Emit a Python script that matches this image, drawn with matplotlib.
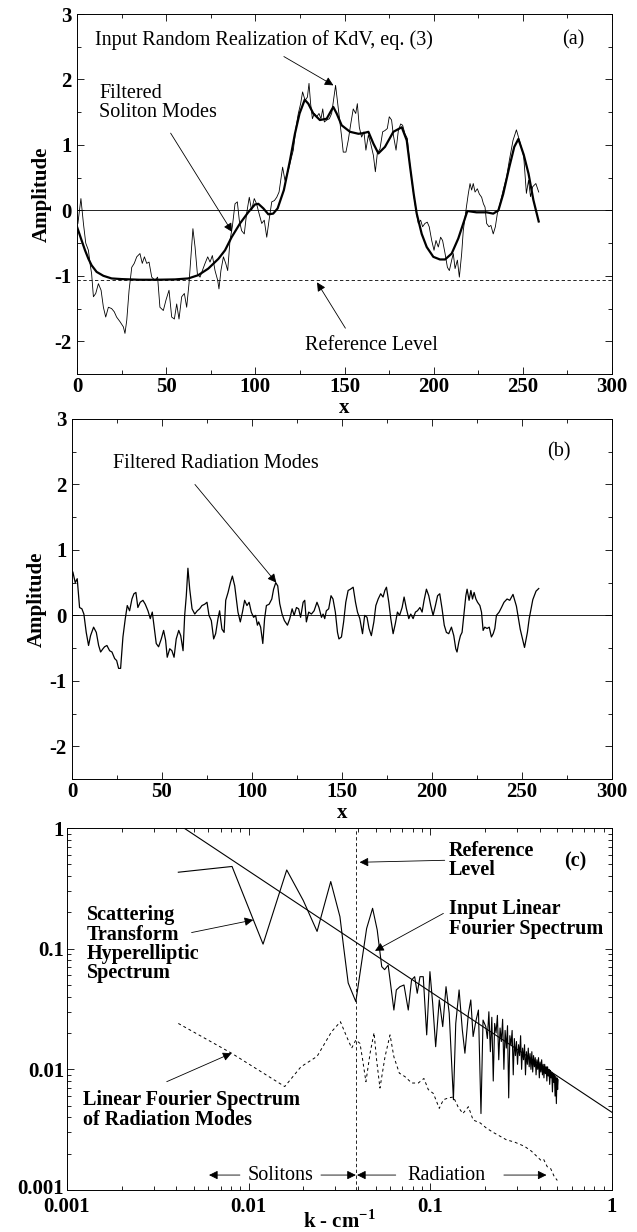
import matplotlib
matplotlib.use("Agg")
import matplotlib.pyplot as plt
import matplotlib.transforms as mtransforms
from matplotlib.ticker import MultipleLocator, LogLocator, NullFormatter

plt.rcParams['font.family'] = ['Liberation Serif', 'DejaVu Serif']
plt.rcParams['mathtext.fontset'] = 'custom'
plt.rcParams['mathtext.rm'] = 'Liberation Serif'
plt.rcParams['mathtext.bf'] = 'Liberation Serif:bold'

# ---------------- Panel (a) data ----------------
input_x = [0.5, 2.2, 3.6, 4.9, 6.4, 7.3, 8.2, 9.2, 10.5, 12, 13.5, 14.8, 16.1, 17.6, 19.4, 20.9,
           22.2, 24.1, 26, 26.9, 27.9, 29.2, 30.7, 32.1, 33.5, 35.3, 36.6, 37.8, 39.1, 40.4,
           41.9, 43.7, 45.2, 46.5, 48.4, 49.9, 51.6, 53.1, 54.6, 55.9, 57.2, 58.7, 60.2, 61.5,
           62.8, 63.9, 65, 66.2, 67.5, 69, 70.3, 71.8, 73.3, 74.6, 75.9, 77.4, 78.9, 79.6,
           80.7, 82.1, 83.4, 84.5, 85.8, 87.1, 88.6, 89.9, 91, 92.3, 93.8, 95.1, 96.6, 97.9,
           99.4, 100.7, 102.1, 103.6, 105, 106.4, 107.7, 109.2, 110.7, 112, 113.3, 115.3,
           116.6, 118.5, 119.8, 121.3, 122.8, 124.1, 125.4, 126.5, 127.9, 129.2, 130.1, 131,
           132, 133.1, 134.4, 135.7, 136.8, 137.8, 138.7, 140, 141.5, 142.8, 144.1, 145,
           146.2, 147.5, 148.4, 149.3, 150.8, 152.1, 153.5, 154.9, 156.3, 157.2, 158.3, 159.6,
           160.9, 162, 163.4, 164.7, 166.2, 167.3, 168.4, 169.9, 171.4, 172.7, 174, 175.1,
           176.4, 177.4, 178.9, 180.2, 181.5, 182.6, 183.9, 185.2, 186.4, 187.7, 189, 190.1,
           191.4, 192.7, 193.8, 195.1, 196.4, 197.5, 198.9, 200.2, 201.3, 202.6, 203.9, 205,
           206.4, 207.7, 208.8, 210.1, 211, 212, 213.3, 214.4, 215.7, 216.6, 218.1, 219.4,
           220.4, 221.3, 222.2, 223.2, 224.5, 225.6, 226.9, 227.9, 228.8, 229.7, 231, 232.1,
           233.4, 234.6, 235.7, 237.2, 239, 240.9, 242.4, 244.5, 246.4, 248.6, 250.5, 252,
           253.2, 254.3, 255.5, 257.3, 258.9]
input_y = [-0.2, 0.18, -0.2, -0.5, -0.61, -0.81, -0.97, -1.32, -1.27, -1.12, -1.22, -1.48, -1.63,
           -1.48, -1.5, -1.55, -1.63, -1.7, -1.78, -1.88, -1.68, -1.22, -0.87, -0.81, -0.71,
           -0.66, -0.81, -0.71, -0.81, -0.79, -1.02, -1.07, -1.02, -1.48, -1.53, -1.37, -1.22,
           -1.63, -1.66, -1.43, -1.66, -1.32, -1.27, -1.48, -1.12, -0.71, -0.28, -0.56, -0.97,
           -1.02, -0.92, -0.81, -0.71, -0.79, -0.69, -0.92, -1.07, -1.2, -0.92, -0.71, -0.81,
           -0.92, -0.46, -0.25, 0.1, 0.13, -0.15, -0.31, -0.36, -0.05, 0.2, 0.0, 0.18, 0.1,
           -0.05, -0.2, -0.15, -0.41, -0.15, 0.13, 0.15, 0.2, 0.28, 0.66, 0.46, 0.61, 0.76,
           0.92, 1.27, 1.48, 1.63, 1.81, 1.68, 1.73, 1.94, 1.63, 1.4, 1.48, 1.43, 1.48, 1.4,
           1.55, 1.35, 1.38, 1.4, 1.48, 1.73, 1.91, 1.63, 1.32, 1.12, 0.89, 0.89, 1.07, 1.32,
           1.55, 1.48, 1.63, 1.27, 1.12, 1.2, 0.92, 1.15, 1.02, 0.84, 0.59, 0.87, 0.94, 1.2,
           1.22, 1.25, 1.43, 1.38, 1.15, 0.92, 1.22, 1.32, 1.3, 1.17, 1.1, 0.76, 0.46, 0.2,
           0.0, -0.2, -0.15, -0.25, -0.2, -0.18, -0.25, -0.46, -0.61, -0.46, -0.56, -0.41,
           -0.46, -0.66, -0.87, -0.92, -0.76, -0.66, -0.89, -0.76, -1.02, -0.66, -0.31, 0.0,
           0.25, 0.41, 0.31, 0.41, 0.28, 0.33, 0.25, 0.2, 0.1, 0.05, -0.2, -0.25, -0.23,
           -0.36, -0.25, -0.05, 0.1, 0.31, 0.51, 0.76, 1.07, 1.23, 1.02, 0.82, 0.26, 0.46,
           0.21, 0.36, 0.41, 0.28]

soliton_x = [0, 2.6, 4.5, 6.4, 8.2, 11, 14.8, 19.4, 25, 35, 45, 55, 62.4, 68, 73.6, 79.3, 83,
             86.7, 91.4, 96, 99.8, 101.7, 104.5, 107.3, 110, 112.5, 116, 119.4, 122.2, 124.8,
             127.7, 129.7, 132.5, 136.2, 140, 143.7, 145.6, 148.4, 153.1, 157.8, 160.6, 163.4,
             166.2, 169, 172.7, 177.4, 182.1, 184.9, 186.8, 188.8, 190.5, 193.3, 196.1, 199.8,
             203.5, 206.4, 210.1, 213.8, 216.6, 218.9, 224, 229.7, 233.4, 236.3, 239, 242.4,
             245.2, 247.5, 250.5, 253.2, 255.9, 258.9]
soliton_y = [-0.25, -0.46, -0.61, -0.74, -0.84, -0.94, -1.0, -1.04, -1.05, -1.06, -1.06, -1.055,
             -1.04, -0.99, -0.89, -0.74, -0.61, -0.41, -0.2, -0.03, 0.09, 0.1, 0.03, -0.06,
             -0.05, 0.03, 0.31, 0.76, 1.17, 1.48, 1.69, 1.63, 1.48, 1.38, 1.4, 1.58, 1.48, 1.3,
             1.2, 1.17, 1.18, 1.2, 1.02, 0.87, 0.97, 1.2, 1.27, 1.07, 0.66, 0.25, -0.05, -0.36,
             -0.56, -0.71, -0.75, -0.75, -0.66, -0.43, -0.2, -0.01, -0.03, -0.03, -0.05, 0.0,
             0.25, 0.66, 0.97, 1.09, 0.85, 0.56, 0.16, -0.17]

ref_level_a = -1.07

# ---------------- Panel (b) data ----------------
rad_x = [0.5, 1.8, 2.9, 4.2, 5.5, 6.6, 7.9, 9.2, 10.3, 12, 13.5, 14.8, 15.9, 17.2, 18.1, 19.4,
         20.9, 22.2, 23.7, 24.8, 25.9, 27, 28.3, 29.6, 30.7, 32, 33.3, 34.4, 35.5, 36.6, 37.9,
         39.4, 40.7, 42.2, 43.5, 44.6, 45.5, 46.8, 48.1, 49.6, 50.9, 52, 52.9, 54.3, 55.5,
         56.7, 57.9, 59.3, 60.4, 61.7, 62.6, 63.5, 64.4, 65.4, 66.7, 68.2, 69.6, 70.9, 72.2,
         73.7, 75, 76.1, 77.4, 78.7, 79.8, 81.1, 82, 83.3, 84.5, 85.4, 86.7, 88, 89.1, 90.4,
         91.3, 92.2, 93.5, 94.7, 95.9, 97.2, 98.4, 99.6, 100.9, 102, 103, 103.7, 104.8, 106,
         107, 108, 109.5, 111, 112, 113.2, 114.3, 115.4, 116.7, 118, 119.7, 121, 122.3, 123.4,
         124.7, 125.9, 127, 128.4, 129.3, 130.2, 131.5, 133, 134.5, 136.1, 137.2, 138.6,
         139.5, 140.4, 141.3, 142.6, 143.9, 145, 146.3, 147.5, 148.3, 149.7, 150.9, 152.1,
         153.4, 154.7, 156.2, 157.5, 158.6, 159.9, 161.4, 162.6, 163.9, 165, 166.3, 167.7,
         168.8, 170.1, 171.5, 172.8, 173.8, 174.7, 176, 177.1, 178.4, 179.6, 180.8, 182,
         183.4, 184.5, 185.8, 187.1, 188.2, 189.5, 190.8, 191.9, 193.3, 194.5, 195.6, 196.9,
         198.2, 199.3, 200.6, 201.9, 203.1, 204.3, 205.6, 206.8, 208, 209.3, 210.8, 212.1,
         213.2, 213.9, 214.9, 215.8, 216.7, 217.7, 218.8, 219.5, 220.6, 221.6, 222.5, 223.4,
         224.4, 225.3, 226.6, 227.5, 228.4, 229.3, 230.6, 231.8, 233, 234, 234.9, 235.8,
         237.3, 238.6, 240, 241.7, 243.2, 245, 246.9, 249, 251.4, 253, 254, 256, 257.8, 259.3]
rad_y = [0.66, 0.5, 0.56, 0.12, 0.1, 0.02, -0.26, -0.46, -0.31, -0.18, -0.26, -0.46, -0.56,
         -0.51, -0.48, -0.46, -0.54, -0.56, -0.66, -0.69, -0.81, -0.81, -0.33, -0.05, 0.15,
         0.07, 0.25, 0.33, 0.35, 0.12, 0.2, 0.23, 0.17, 0.07, -0.05, 0.05, -0.15, -0.43,
         -0.48, -0.36, -0.23, -0.38, -0.64, -0.51, -0.54, -0.64, -0.36, -0.23, -0.31, -0.54,
         0.0, 0.3, 0.72, 0.4, 0.1, 0.02, 0.07, 0.1, 0.15, 0.17, 0.2, 0.0, -0.08, -0.36, -0.28,
         -0.05, 0.07, -0.21, -0.26, 0.23, 0.35, 0.5, 0.6, 0.45, 0.25, 0.05, -0.1, 0.05, 0.23,
         0.15, 0.2, 0.05, -0.03, 0.0, -0.15, -0.1, -0.18, -0.43, -0.05, 0.15, 0.17, 0.25, 0.4,
         0.5, 0.45, 0.18, 0.02, -0.08, -0.15, -0.05, 0.1, 0.0, 0.12, 0.1, -0.03, 0.2, 0.23,
         -0.1, 0.05, 0.02, 0.07, 0.2, 0.12, -0.03, 0.02, -0.05, 0.07, 0.1, 0.3, 0.25, 0.05,
         -0.26, -0.36, -0.33, -0.1, 0.2, 0.38, 0.4, 0.43, 0.2, 0.05, -0.05, -0.28, 0.0, -0.03,
         -0.2, -0.31, -0.1, 0.15, 0.25, 0.33, 0.28, 0.38, 0.43, 0.2, -0.05, -0.28, -0.13, 0.05,
         0.0, 0.12, 0.28, 0.1, -0.05, 0.02, -0.05, 0.05, 0.07, 0.12, 0.05, 0.23, 0.4, 0.3,
         0.15, 0.0, 0.15, 0.3, 0.33, 0.1, -0.15, -0.26, -0.28, -0.18, -0.31, -0.51, -0.56,
         -0.41, -0.31, -0.26, 0.0, 0.3, 0.4, 0.23, 0.38, 0.25, 0.35, 0.25, 0.2, 0.15, 0.05,
         -0.23, -0.18, -0.2, -0.18, -0.33, -0.28, -0.2, 0.0, 0.05, 0.12, 0.2, 0.25, 0.23, 0.32,
         0.14, -0.21, -0.49, -0.26, -0.05, 0.24, 0.37, 0.41]

# ---------------- Panel (c) data ----------------
hyper_k = [0.0041, 0.0081, 0.0120, 0.0162, 0.0200, 0.0238, 0.0283, 0.0318, 0.0333, 0.0353,
           0.0389, 0.0418, 0.0446, 0.0481, 0.051, 0.054, 0.056, 0.0586, 0.063, 0.065, 0.068,
           0.0716, 0.0756, 0.0788, 0.082, 0.0847, 0.0877, 0.0914, 0.0955, 0.0995, 0.103,
           0.107, 0.112, 0.117, 0.122, 0.127, 0.134, 0.138, 0.144, 0.150, 0.155, 0.162, 0.167,
           0.172, 0.178, 0.184, 0.190, 0.195, 0.202, 0.206, 0.210, 0.214, 0.218, 0.222, 0.226,
           0.230, 0.234, 0.238, 0.242, 0.246, 0.250, 0.254, 0.258, 0.262, 0.266, 0.270, 0.274,
           0.278, 0.282, 0.286, 0.290, 0.294, 0.298, 0.302, 0.306, 0.310, 0.314, 0.318, 0.322,
           0.326, 0.330, 0.334, 0.338, 0.342, 0.346, 0.350, 0.354, 0.358, 0.362, 0.366, 0.370,
           0.374, 0.378, 0.382, 0.386, 0.390, 0.394, 0.398, 0.402, 0.406, 0.410, 0.414, 0.418,
           0.422, 0.426, 0.430, 0.434, 0.438, 0.442, 0.446, 0.450, 0.454, 0.458, 0.462, 0.466,
           0.470, 0.474, 0.478, 0.482, 0.486, 0.490, 0.494, 0.498, 0.502, 0.505]
hyper_amp = [0.43, 0.48, 0.109, 0.449, 0.25, 0.139, 0.36, 0.184, 0.104, 0.052, 0.0364, 0.076,
             0.147, 0.216, 0.143, 0.071, 0.067, 0.073, 0.031, 0.0455, 0.0484, 0.050, 0.031,
             0.055, 0.0586, 0.0427, 0.0586, 0.0586, 0.0193, 0.0645, 0.0353, 0.0154, 0.0376,
             0.0226, 0.0484, 0.0292, 0.0056, 0.024, 0.0455, 0.0212, 0.0136, 0.029, 0.0376,
             0.0187, 0.025, 0.031, 0.0043, 0.0256, 0.0226, 0.018, 0.030, 0.014, 0.027, 0.008,
             0.024, 0.020, 0.028, 0.012, 0.022, 0.017, 0.026, 0.010, 0.021, 0.015, 0.023,
             0.0058, 0.019, 0.016, 0.021, 0.009, 0.018, 0.013, 0.017, 0.011, 0.016, 0.013,
             0.019, 0.010, 0.015, 0.012, 0.016, 0.009, 0.014, 0.011, 0.015, 0.0105, 0.0135,
             0.010, 0.014, 0.0095, 0.013, 0.0105, 0.0125, 0.009, 0.012, 0.010, 0.0125, 0.0085,
             0.0115, 0.0095, 0.012, 0.009, 0.011, 0.0085, 0.011, 0.0092, 0.0105, 0.008, 0.0105,
             0.0088, 0.010, 0.0075, 0.0098, 0.0085, 0.0095, 0.0065, 0.0092, 0.0078, 0.0090,
             0.0060, 0.0088, 0.0052, 0.0085, 0.0068, 0.0082]

radspec_k = [0.0041, 0.00805, 0.0158, 0.0194, 0.0238, 0.0286, 0.032, 0.0346, 0.0369, 0.0389,
             0.041, 0.0424, 0.0442, 0.0466, 0.049, 0.0506, 0.0528, 0.0563, 0.060, 0.063,
             0.0675, 0.0725, 0.079, 0.0858, 0.0922, 0.0974, 0.104, 0.112, 0.118, 0.126, 0.134,
             0.142, 0.151, 0.162, 0.172, 0.188, 0.204, 0.222, 0.241, 0.263, 0.29, 0.33, 0.36,
             0.405, 0.42, 0.44, 0.46, 0.48, 0.50]
radspec_amp = [0.024, 0.0136, 0.0072, 0.0105, 0.0128, 0.0205, 0.0248, 0.0187, 0.015, 0.0175,
               0.0164, 0.012, 0.0079, 0.0136, 0.0201, 0.012, 0.007, 0.0127, 0.0193, 0.0127,
               0.0093, 0.0087, 0.0077, 0.0077, 0.0084, 0.0068, 0.0063, 0.00475, 0.0056, 0.0058,
               0.0059, 0.0049, 0.0043, 0.0049, 0.0038, 0.0036, 0.00325, 0.0030, 0.0028, 0.0026,
               0.0025, 0.0023, 0.0021, 0.00177, 0.0018, 0.00156, 0.0015, 0.0013, 0.0012]

line_k = [0.001, 1.0]
line_amp = [4.4, 0.0044]

ref_level_k = 0.0389

# ---------------- figure ----------------
W, H = 637, 1232
fig = plt.figure(figsize=(W / 100, H / 100), dpi=100)

def px_axes(l, r, t, b):
    return fig.add_axes([l / W, 1 - b / H, (r - l) / W, (b - t) / H])

ax_a = px_axes(77, 612, 14, 374)
ax_b = px_axes(72, 612, 419, 779)
ax_c = px_axes(67, 612, 828, 1190)

TICKFS = 15
TXTFS = 14.5
arrow_kw = dict(arrowstyle='-|>', color='black', lw=0.6, mutation_scale=13,
                shrinkA=0, shrinkB=0)

def style_linear(ax):
    ax.set_xlim(0, 300)
    ax.set_ylim(-2.5, 3)
    ax.xaxis.set_major_locator(MultipleLocator(50))
    ax.xaxis.set_minor_locator(MultipleLocator(25))
    ax.yaxis.set_major_locator(MultipleLocator(1))
    ax.yaxis.set_minor_locator(MultipleLocator(0.5))
    ax.tick_params(which='both', direction='in', top=True, right=True)
    ax.tick_params(which='major', length=5, width=0.6, pad=2)
    ax.tick_params(which='minor', length=3, width=0.6)
    ax.set_xticks([0, 50, 100, 150, 200, 250, 300])
    ax.set_xticklabels(['0', '50', '100', '150', '200', '250', '300'],
                       fontsize=TICKFS, fontweight='bold')
    ax.set_yticks([-2, -1, 0, 1, 2, 3])
    ax.set_yticklabels(['-2', '-1', '0', '1', '2', '3'], fontsize=TICKFS, fontweight='bold')
    ax.tick_params(axis='y', pad=4)
    ax.set_xlabel('x', fontsize=TICKFS, fontweight='bold', labelpad=1)
    ax.set_ylabel('Amplitude', fontsize=TICKFS, fontweight='bold', labelpad=2)
    for s in ax.spines.values():
        s.set_linewidth(0.7)

# ---- (a)
style_linear(ax_a)
ax_a.axhline(0, color='black', lw=0.6)
ax_a.axhline(ref_level_a, color='black', lw=0.6, ls=(0, (4, 3)))
ax_a.plot(input_x, input_y, color='black', lw=0.6)
ax_a.plot(soliton_x, soliton_y, color='black', lw=1.6)
ax_a.text(10.3, 2.6, 'Input Random Realization of KdV, eq. (3)', fontsize=TXTFS,
          ha='left', va='center')
ax_a.text(278, 2.6, '(a)', fontsize=TXTFS, ha='center', va='center')
ax_a.annotate('', xy=(143.8, 1.91), xytext=(116, 2.35), arrowprops=arrow_kw)
ax_a.text(12.5, 1.64, 'Filtered\nSoliton Modes', fontsize=TXTFS, ha='left', va='center',
          linespacing=1.0)
ax_a.annotate('', xy=(87, -0.33), xytext=(52.5, 1.18), arrowprops=arrow_kw)
ax_a.text(165, -2.06, 'Reference Level', fontsize=TXTFS, ha='center', va='center')
ax_a.annotate('', xy=(134.6, -1.1), xytext=(150.5, -1.8), arrowprops=arrow_kw)

# ---- (b)
style_linear(ax_b)
ax_b.axhline(0, color='black', lw=0.6)
ax_b.plot(rad_x, rad_y, color='black', lw=0.9)
ax_b.text(23, 2.32, 'Filtered Radiation Modes', fontsize=TXTFS, ha='left', va='center')
ax_b.text(270.6, 2.5, '(b)', fontsize=TXTFS, ha='center', va='center')
ax_b.annotate('', xy=(113.5, 0.5), xytext=(68.3, 2.0), arrowprops=arrow_kw)

# ---- (c)
ax = ax_c
ax.set_xscale('log')
ax.set_yscale('log')
ax.set_xlim(0.001, 1)
ax.set_ylim(0.001, 1)
ax.xaxis.set_minor_locator(LogLocator(base=10, subs=range(2, 10)))
ax.yaxis.set_minor_locator(LogLocator(base=10, subs=range(2, 10)))
ax.xaxis.set_minor_formatter(NullFormatter())
ax.yaxis.set_minor_formatter(NullFormatter())
ax.tick_params(which='both', direction='in', top=True, right=True)
ax.tick_params(which='major', length=5, width=0.6, pad=5)
ax.tick_params(which='minor', length=3, width=0.6)
ax.set_xticks([0.001, 0.01, 0.1, 1])
ax.set_xticklabels(['0.001', '0.01', '0.1', '1'], fontsize=TICKFS, fontweight='bold')
ax.set_yticks([0.001, 0.01, 0.1, 1])
ax.set_yticklabels(['0.001', '0.01', '0.1', '1'], fontsize=TICKFS, fontweight='bold')
ax.tick_params(axis='y', pad=2)
ax.set_xlabel(r'k - cm$^{\mathbf{-1}}$', fontsize=TICKFS, fontweight='bold', labelpad=-5)
# lift the bottom-most y label slightly so it clears the x label below it
lift = mtransforms.ScaledTranslation(0, 4 / 100, fig.dpi_scale_trans)
ylabs = ax.get_yticklabels()
ylabs[0].set_transform(ylabs[0].get_transform() + lift)
for s in ax.spines.values():
    s.set_linewidth(0.7)

ax.plot(line_k, line_amp, color='black', lw=0.8)
ax.plot(hyper_k, hyper_amp, color='black', lw=0.8)
ax.plot(radspec_k, radspec_amp, color='black', lw=0.7, ls=(0, (3, 3)))
ax.axvline(ref_level_k, color='black', lw=0.6, ls=(0, (4, 3)))

ax.text(0.126, 0.54, 'Reference\nLevel', fontsize=TXTFS, fontweight='bold', ha='left',
        va='center', linespacing=0.95)
ax.annotate('', xy=(0.0408, 0.52), xytext=(0.12, 0.54), arrowprops=arrow_kw)
ax.text(0.625, 0.53, '(c)', fontsize=TXTFS, fontweight='bold', ha='center', va='center')
ax.text(0.00129, 0.109, 'Scattering\nTransform\nHyperelliptic\nSpectrum', fontsize=TXTFS,
        fontweight='bold', ha='left', va='center', linespacing=0.95)
ax.annotate('', xy=(0.0106, 0.173), xytext=(0.00485, 0.136), arrowprops=arrow_kw)
ax.text(0.126, 0.176, 'Input Linear\nFourier Spectrum', fontsize=TXTFS, fontweight='bold',
        ha='left', va='center', linespacing=0.95)
ax.annotate('', xy=(0.0496, 0.096), xytext=(0.118, 0.196), arrowprops=arrow_kw)
ax.text(0.00122, 0.0046, 'Linear Fourier Spectrum\nof Radiation Modes', fontsize=TXTFS,
        fontweight='bold', ha='left', va='center', linespacing=0.95)
ax.annotate('', xy=(0.00805, 0.0136), xytext=(0.00354, 0.0079), arrowprops=arrow_kw)

ax.text(0.015, 0.00133, 'Solitons', fontsize=TXTFS, ha='center', va='center')
ax.annotate('', xy=(0.00605, 0.00133), xytext=(0.00895, 0.00133), arrowprops=arrow_kw)
ax.annotate('', xy=(0.0389, 0.00133), xytext=(0.025, 0.00133), arrowprops=arrow_kw)
ax.text(0.123, 0.00133, 'Radiation', fontsize=TXTFS, ha='center', va='center')
ax.annotate('', xy=(0.0395, 0.00133), xytext=(0.0645, 0.00133), arrowprops=arrow_kw)
ax.annotate('', xy=(0.436, 0.00133), xytext=(0.254, 0.00133), arrowprops=arrow_kw)

fig.savefig('out.png', dpi=100)
